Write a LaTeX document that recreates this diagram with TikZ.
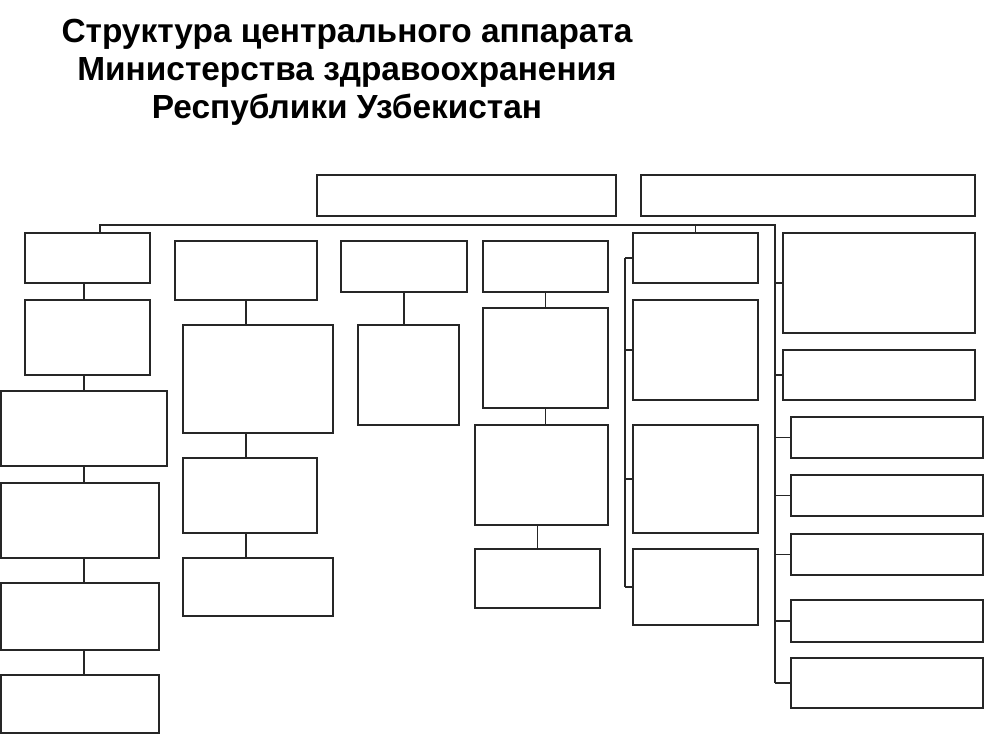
\documentclass[tikz,border=0pt]{standalone}
\usepackage{fontspec}
\setmainfont{Liberation Sans}
\usetikzlibrary{positioning,fit}
\definecolor{MZ}{HTML}{262626}

\tikzset{
  unit/.style={draw=MZ, line width=0.5pt, inner sep=0pt, rectangle},
  link/.style={draw=MZ, line width=0.5pt}
}

\begin{document}
\begin{tikzpicture}[x=0.01cm, y=-0.01cm]
    \useasboundingbox (0,0) rectangle (1000,750);

    \node[anchor=base, align=center,
          font=\fontsize{9.5}{10.8}\selectfont\bfseries] (title) at (347,118)
      {Структура центрального аппарата\\
       Министерства здравоохранения\\
       Республики Узбекистан};

    % top level
    \node[unit, fit={(317,175) (616,216)}] (A) {};
    \node[unit, fit={(641,175) (975,216)}] (B) {};

    % column 1
    \node[unit, fit={(25,233) (150,283)}] (L1) {};
    \node[unit, fit={(25,300) (150,375)}] (L2) {};
    \node[unit, fit={(1,391) (167,466)}] (L3) {};
    \node[unit, fit={(1,483) (159,558)}] (L4) {};
    \node[unit, fit={(1,583) (159,650)}] (L5) {};
    \node[unit, fit={(1,675) (159,733)}] (L6) {};

    % column 2
    \node[unit, fit={(175,241) (317,300)}] (C2a) {};
    \node[unit, fit={(183,325) (333,433)}] (C2b) {};
    \node[unit, fit={(183,458) (317,533)}] (C2c) {};
    \node[unit, fit={(183,558) (333,616)}] (C2d) {};

    % column 3
    \node[unit, fit={(341,241) (467,292)}] (C3a) {};
    \node[unit, fit={(358,325) (459,425)}] (C3b) {};

    % column 4
    \node[unit, fit={(483,241) (608,292)}] (C4a) {};
    \node[unit, fit={(483,308) (608,408)}] (C4b) {};
    \node[unit, fit={(475,425) (608,525)}] (C4c) {};
    \node[unit, fit={(475,549) (600,608)}] (C4d) {};

    % column 5
    \node[unit, fit={(633,233) (758,283)}] (C5a) {};
    \node[unit, fit={(633,300) (758,400)}] (C5b) {};
    \node[unit, fit={(633,425) (758,533)}] (C5c) {};
    \node[unit, fit={(633,549) (758,625)}] (C5d) {};

    % right column
    \node[unit, fit={(783,233) (975,333)}] (R1) {};
    \node[unit, fit={(783,350) (975,400)}] (R2) {};
    \node[unit, fit={(791,417) (983,458)}] (R3) {};
    \node[unit, fit={(791,475) (983,516)}] (R4) {};
    \node[unit, fit={(791,534) (983,575)}] (R5) {};
    \node[unit, fit={(791,600) (983,642)}] (R6) {};
    \node[unit, fit={(791,658) (983,708)}] (R7) {};

    % bus lines
    \coordinate (busL) at (100,225);
    \coordinate (busR) at (775,225);
    \coordinate (brk) at (625,0);
    \draw[link] (L1.north -| busL) -- (busL) -- (busR) -- (R7.west -| busR);
    \draw[link] (C5a.north) -- (C5a.north |- busR);
    \foreach \r in {R1,R2,R3,R4,R5,R6,R7}
      \draw[link] (\r.west) -- (\r.west -| busR);
    \draw[link] (C5a.west -| brk) -- (C5d.west -| brk);
    \foreach \c in {C5a,C5b,C5c,C5d}
      \draw[link] (\c.west) -- (\c.west -| brk);

    % vertical chains
    \draw[link] (L1.south -| L3.north) -- (L2.north -| L3.north);
    \draw[link] (L2.south -| L3.north) -- (L3.north);
    \draw[link] (L3.south) -- (L4.north -| L3.south);
    \draw[link] (L4.south -| L3.south) -- (L5.north -| L3.south);
    \draw[link] (L5.south -| L3.south) -- (L6.north -| L3.south);
    \draw[link] (C2a.south) -- (C2b.north -| C2a.south);
    \draw[link] (C2b.south -| C2a.south) -- (C2c.north -| C2a.south);
    \draw[link] (C2c.south -| C2a.south) -- (C2d.north -| C2a.south);
    \draw[link] (C3a.south) -- (C3b.north -| C3a.south);
    \draw[link] (C4a.south) -- (C4b.north);
    \draw[link] (C4b.south) -- (C4c.north -| C4b.south);
    \draw[link] (C4c.south -| C4d.north) -- (C4d.north);
\end{tikzpicture}
\end{document}
